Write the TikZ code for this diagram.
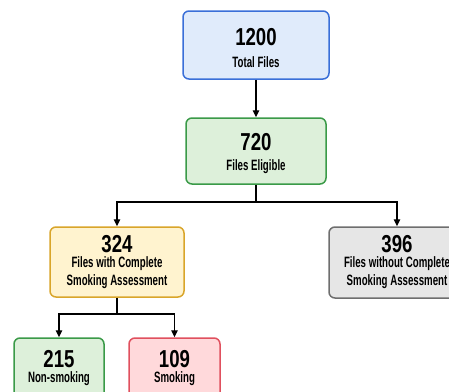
\documentclass[tikz,border=0pt]{standalone}
\usepackage{fontspec}
\setmainfont{Liberation Sans}
\newfontfamily\numfont{Liberation Sans}[FakeStretch=0.76]
\newfontfamily\subfont{Liberation Sans}[FakeStretch=0.645]
\usetikzlibrary{arrows.meta}
\definecolor{bluefill}{HTML}{E0EBFB}
\definecolor{blueline}{HTML}{3A6FD8}
\definecolor{greenfill}{HTML}{DDF0DA}
\definecolor{greenline}{HTML}{3A9A48}
\definecolor{yellowfill}{HTML}{FFF3CF}
\definecolor{yellowline}{HTML}{D9A52A}
\definecolor{greyfill}{HTML}{E6E6E6}
\definecolor{greyline}{HTML}{6E6E6E}
\definecolor{redfill}{HTML}{FFD9DB}
\definecolor{redline}{HTML}{E0505E}
\begin{document}
\begin{tikzpicture}[x=1pt,y=-1pt,
  box/.style={draw, line width=1.5pt, rounded corners=6pt, inner sep=0pt},
  num/.style={font=\numfont\fontsize{24.5}{24}\selectfont\bfseries, inner sep=0pt},
  sub/.style={font=\subfont\fontsize{15}{18}\selectfont\bfseries, inner sep=0pt, align=center},
  conn/.style={line width=1.4pt, black},
  arr/.style={conn, -{Triangle[length=7pt,width=6.5pt]}}
]
\useasboundingbox (0,0) rectangle (449,391);
% boxes
\node[box, fill=bluefill, draw=blueline, minimum width=146pt, minimum height=68pt] (n1200) at (256,45) {};
\node[box, fill=greenfill, draw=greenline, minimum width=140pt, minimum height=66pt] (n720) at (256,151) {};
\node[box, fill=yellowfill, draw=yellowline, minimum width=134pt, minimum height=70pt] (n324) at (117,262) {};
\node[box, fill=greyfill, draw=greyline, minimum width=136pt, minimum height=71pt] (n396) at (397,262.5) {};
\node[box, fill=greenfill, draw=greenline, minimum width=90pt, minimum height=70pt] (n215) at (59,373) {};
\node[box, fill=redfill, draw=redline, minimum width=91pt, minimum height=70pt] (n109) at (174.5,373) {};
% texts
\node[num] (t1200) at (256,37) {1200};
\node[sub] (s1200) at (256,62) {Total Files};
\node[num] (t720) at (256,142) {720};
\node[sub] (s720) at (256,167) {Files Eligible};
\node[num] (t324) at (117,244) {324};
\node[sub] (s324) at (117,273) {Files with Complete\\Smoking Assessment};
\node[num] (t396) at (397,244) {396};
\node[sub] (s396) at (397,273) {Files without Complete\\Smoking Assessment};
\node[num] (t215) at (59,359) {215};
\node[sub] (s215) at (59,379) {Non-smoking};
\node[num] (t109) at (174.5,359) {109};
\node[sub] (s109) at (174.5,379) {Smoking};
% connectors
\draw[arr] (n1200.south) -- (n720.north);
\coordinate (b1) at (256,202);
\draw[conn] (n720.south) -- (b1);
\draw[arr] (b1) -| (n324.north);
\draw[arr] (b1) -| (n396.north);
\coordinate (b2) at (117,314);
\draw[conn] (n324.south) -- (b2);
\draw[arr] (b2) -| (n215.north);
\draw[arr] (b2) -| (n109.north);
\end{tikzpicture}
\end{document}
